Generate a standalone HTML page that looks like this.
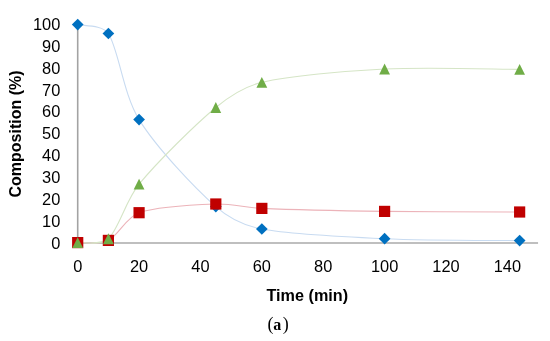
<!DOCTYPE html>
<html><head><meta charset="utf-8"><style>
html,body{margin:0;padding:0;background:#fff;}
body{width:550px;height:341px;overflow:hidden;position:relative;}
svg{position:absolute;left:0;top:0;will-change:transform;}
text{font-family:"Liberation Sans",sans-serif;}
</style></head><body>
<svg width="550" height="341" viewBox="0 0 550 341">
<rect width="550" height="341" fill="#fff"/>
<line x1="77.70" y1="24.55" x2="77.70" y2="243.00" stroke="#a3a3a3" stroke-width="1.6"/>
<line x1="77.70" y1="243.00" x2="538.05" y2="243.00" stroke="#bfbfbf" stroke-width="2"/>
<g font-size="16.4" fill="#000" text-anchor="end"><text x="60.3" y="248.50">0</text><text x="60.3" y="226.66">10</text><text x="60.3" y="204.81">20</text><text x="60.3" y="182.97">30</text><text x="60.3" y="161.12">40</text><text x="60.3" y="139.28">50</text><text x="60.3" y="117.43">60</text><text x="60.3" y="95.59">70</text><text x="60.3" y="73.74">80</text><text x="60.3" y="51.90">90</text><text x="60.3" y="30.05">100</text></g>
<g font-size="16.4" fill="#000" text-anchor="middle"><text x="77.70" y="272.3">0</text><text x="139.08" y="272.3">20</text><text x="200.46" y="272.3">40</text><text x="261.84" y="272.3">60</text><text x="323.22" y="272.3">80</text><text x="384.60" y="272.3">100</text><text x="445.98" y="272.3">120</text><text x="507.36" y="272.3">140</text></g>
<text x="307.3" y="300.6" font-size="16.2" font-weight="bold" text-anchor="middle">Time (min)</text>
<text transform="translate(21.15,133.95) rotate(-90)" font-size="16.0" font-weight="bold" text-anchor="middle">Composition (%)</text>
<text y="329.5" font-size="18" style="font-family:'Liberation Serif',serif"><tspan x="267.4">(</tspan><tspan x="273.2" font-weight="bold" font-size="16">a</tspan><tspan x="282.7">)</tspan></text>
<path d="M77.70,24.55 C82.81,26.04 102.61,24.55 108.39,33.50 C118.62,49.34 123.02,93.71 139.08,119.60 C156.98,148.45 195.34,188.37 215.81,206.60 C228.54,217.95 245.08,225.81 261.84,229.00 C289.97,234.35 343.60,236.86 384.60,238.70 C427.57,240.63 497.13,240.28 519.64,240.60" fill="none" stroke="#c8dbf1" stroke-width="1.1"/>
<path d="M77.70,242.60 C82.81,242.23 99.17,244.89 108.39,240.40 C118.62,235.42 126.03,217.12 139.08,212.70 C156.98,206.63 195.34,204.72 215.81,204.00 C231.21,203.46 246.44,207.72 261.84,208.40 C289.97,209.63 343.68,210.83 384.60,211.40 C427.57,212.00 497.13,211.90 519.64,212.00" fill="none" stroke="#ecb3b9" stroke-width="1.1"/>
<path d="M77.70,242.65 C82.81,242.00 100.92,245.86 108.39,238.75 C118.62,229.01 125.87,200.34 139.08,184.20 C156.98,162.32 195.34,124.47 215.81,107.50 C229.26,96.34 244.80,86.29 261.84,82.40 C289.97,75.98 343.49,71.08 384.60,69.00 C427.57,66.82 497.13,69.29 519.64,69.35" fill="none" stroke="#d5e5c6" stroke-width="1.1"/>
<g fill="#0070c0"><path d="M77.70,18.70 L83.55,24.55 L77.70,30.40 L71.85,24.55 Z"/><path d="M108.39,27.65 L114.24,33.50 L108.39,39.35 L102.54,33.50 Z"/><path d="M139.08,113.75 L144.93,119.60 L139.08,125.45 L133.23,119.60 Z"/><path d="M215.81,200.75 L221.66,206.60 L215.81,212.45 L209.96,206.60 Z"/><path d="M261.84,223.15 L267.69,229.00 L261.84,234.85 L255.99,229.00 Z"/><path d="M384.60,232.85 L390.45,238.70 L384.60,244.55 L378.75,238.70 Z"/><path d="M519.64,234.75 L525.49,240.60 L519.64,246.45 L513.79,240.60 Z"/></g>
<g fill="#c00000"><rect x="72.10" y="237.00" width="11.20" height="11.20"/><rect x="102.79" y="234.80" width="11.20" height="11.20"/><rect x="133.48" y="207.10" width="11.20" height="11.20"/><rect x="210.21" y="198.40" width="11.20" height="11.20"/><rect x="256.24" y="202.80" width="11.20" height="11.20"/><rect x="379.00" y="205.80" width="11.20" height="11.20"/><rect x="514.04" y="206.40" width="11.20" height="11.20"/></g>
<g fill="#70ad47"><path d="M77.70,237.25 L83.10,248.05 L72.30,248.05 Z"/><path d="M108.39,233.35 L113.79,244.15 L102.99,244.15 Z"/><path d="M139.08,178.80 L144.48,189.60 L133.68,189.60 Z"/><path d="M215.81,102.10 L221.21,112.90 L210.41,112.90 Z"/><path d="M261.84,77.00 L267.24,87.80 L256.44,87.80 Z"/><path d="M384.60,63.60 L390.00,74.40 L379.20,74.40 Z"/><path d="M519.64,63.95 L525.04,74.75 L514.24,74.75 Z"/></g>
</svg>
</body></html>
